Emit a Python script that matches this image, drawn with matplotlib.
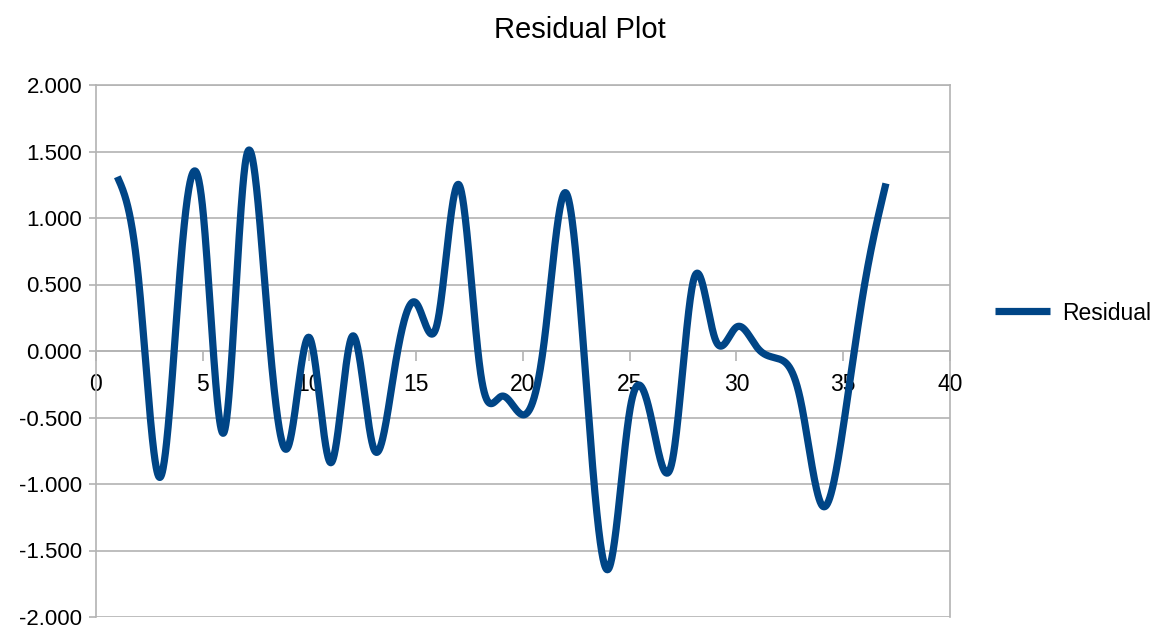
import numpy as np
import matplotlib
matplotlib.use("Agg")
import matplotlib.pyplot as plt

# residual values, one per observation (x = 1..37)
obs = list(range(1, 38))
residual = [1.31, 0.53, -0.95, 0.72, 1.07, -0.61, 1.42, 0.32, -0.72, 0.10,
            -0.84, 0.11, -0.73, -0.12, 0.36, 0.22, 1.25, -0.15, -0.34, -0.48,
            0.08, 1.19, -0.33, -1.64, -0.45, -0.50, -0.82, 0.54, 0.09, 0.18,
            0.02, -0.06, -0.37, -1.16, -0.57, 0.50, 1.26]

y_ticks = [-2.0, -1.5, -1.0, -0.5, 0.0, 0.5, 1.0, 1.5, 2.0]
x_ticks = [0, 5, 10, 15, 20, 25, 30, 35, 40]

LINE_COLOR = '#004586'
GRID_COLOR = '#b3b3b3'


def natural_spline(x, y, xs):
    # plain natural cubic spline, like the "smooth line" option of the spreadsheet
    x = np.asarray(x, float)
    y = np.asarray(y, float)
    n = len(x)
    h = np.diff(x)
    A = np.zeros((n, n))
    r = np.zeros(n)
    A[0, 0] = 1
    A[-1, -1] = 1
    for i in range(1, n - 1):
        A[i, i - 1] = h[i - 1]
        A[i, i] = 2 * (h[i - 1] + h[i])
        A[i, i + 1] = h[i]
        r[i] = 3 * ((y[i + 1] - y[i]) / h[i] - (y[i] - y[i - 1]) / h[i - 1])
    c = np.linalg.solve(A, r)
    b = (y[1:] - y[:-1]) / h - h * (2 * c[:-1] + c[1:]) / 3
    d = (c[1:] - c[:-1]) / (3 * h)
    idx = np.clip(np.searchsorted(x, xs) - 1, 0, n - 2)
    dx = xs - x[idx]
    return y[idx] + b[idx] * dx + c[idx] * dx ** 2 + d[idx] * dx ** 3


plt.rcParams['font.family'] = ['Liberation Sans', 'DejaVu Sans']

fig = plt.figure(figsize=(11.59, 6.30), dpi=100)
ax = fig.add_axes([96 / 1159, 1 - 617 / 630, (950 - 96) / 1159, (617 - 85) / 630])

xs = np.linspace(obs[0], obs[-1], 2000)
ax.plot(xs, natural_spline(obs, residual, xs), color=LINE_COLOR, lw=5.2,
        solid_capstyle='butt', label='Residual', zorder=3)

ax.set_xlim(0, 40)
ax.set_ylim(-2, 2)
ax.set_xticks(x_ticks)
ax.set_yticks(y_ticks)
ax.set_yticklabels(['%.3f' % v for v in y_ticks])
ax.grid(axis='y', color=GRID_COLOR, lw=1.2)
ax.set_axisbelow(True)

for side in ['left', 'right', 'top', 'bottom']:
    ax.spines[side].set_color(GRID_COLOR)
    ax.spines[side].set_linewidth(1.2)
ax.spines['bottom'].set_position(('data', 0))

ax.tick_params(axis='x', direction='out', length=7, width=1.2, color=GRID_COLOR,
               labelsize=16.5, pad=9)
ax.tick_params(axis='y', direction='out', length=5, width=1.2, color=GRID_COLOR,
               labelsize=16, pad=5)

fig.suptitle('Residual Plot', fontsize=21, y=1 - 30 / 630, va='center')

fig.legend(loc='center left', bbox_to_anchor=(995 / 1159, 1 - 313 / 630),
           frameon=False, fontsize=16.5, handlelength=2.4, handletextpad=0.55,
           borderaxespad=0, borderpad=0)

fig.savefig('out.png', dpi=100)
